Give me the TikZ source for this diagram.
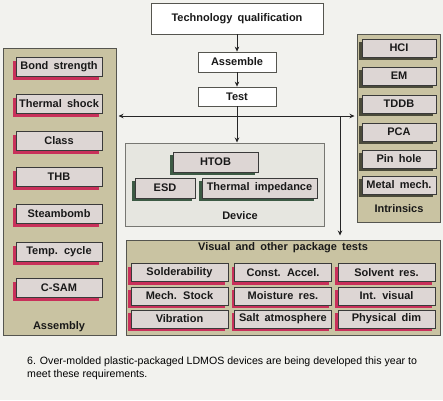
\documentclass[tikz,border=0pt]{standalone}
\usepackage{fontspec}
\setmainfont[WordSpace=1.7]{Liberation Sans}
\newfontfamily\capfont{Liberation Sans}
\usetikzlibrary{shadows,arrows.meta}
\definecolor{bgc}{HTML}{F2F2EE}
\definecolor{khaki}{HTML}{C9C3A2}
\definecolor{panelline}{HTML}{55554F}
\definecolor{itemfill}{HTML}{DDD6D4}
\definecolor{itemline}{HTML}{3A3A3A}
\definecolor{crimson}{HTML}{C8305A}
\definecolor{darkshadow}{HTML}{4A4A3A}
\definecolor{greenshadow}{HTML}{3C5A44}
\definecolor{devfill}{HTML}{E6E6E0}
\begin{document}
\begin{tikzpicture}[x=1pt,y=-1pt,
  lbl/.style={font=\bfseries\fontsize{11}{12}\selectfont, text=black!90},
  topbox/.style={lbl, draw=panelline, fill=white, line width=0.8pt, inner sep=0pt},
  panel/.style={draw=panelline, fill=khaki, line width=1pt},
  devpanel/.style={draw=panelline!80, fill=devfill, line width=1pt},
  item/.style={lbl, draw=itemline, fill=itemfill, line width=0.7pt, inner sep=0pt},
  redsh/.style={general shadow={fill=crimson, shadow xshift=-3pt, shadow yshift=-3pt}},
  darksh/.style={general shadow={fill=darkshadow, shadow xshift=-3pt, shadow yshift=-3pt}},
  greensh/.style={general shadow={fill=greenshadow, shadow xshift=-3pt, shadow yshift=-3pt}},
  asm/.style={item, redsh, minimum width=86pt, minimum height=19pt},
  intr/.style={item, darksh, minimum width=74pt, minimum height=18pt},
  vis/.style={item, redsh, minimum width=97pt, minimum height=18pt},
  dev/.style={item, greensh, minimum height=20pt},
  arr/.style={draw=black!85, line width=0.7pt, -{Stealth[length=5pt,width=4.5pt]}},
  captext/.style={font=\capfont\fontsize{10.6}{13}\selectfont, align=left, anchor=north west, inner sep=0pt}
]
\fill[bgc] (0,0) rectangle (443,400);
\useasboundingbox (0,0) rectangle (443,400);

% top chain
\node[topbox, minimum width=172pt, minimum height=31pt] (tq) at (237,18.5) {Technology qualification};
\node[topbox, minimum width=78pt, minimum height=20pt] (asb) at (237,62) {Assemble};
\node[topbox, minimum width=78pt, minimum height=19pt] (tst) at (237,96.5) {Test};

% panels
\node[panel, minimum width=113pt, minimum height=287pt] (asmP) at (59.5,191.5) {};
\node[panel, minimum width=83pt, minimum height=188pt] (intP) at (398.5,128) {};
\node[devpanel, minimum width=199pt, minimum height=83pt] (devP) at (224.5,184.5) {};
\node[panel, minimum width=314pt, minimum height=95pt] (visP) at (283,287.5) {};

% assembly items
\node[asm] (a1) at (59,67) {Bond strength};
\node[asm] (a2) at (59,104) {Thermal shock};
\node[asm] (a3) at (59,141) {Class};
\node[asm] (a4) at (59,177) {THB};
\node[asm] (a5) at (59,214) {Steambomb};
\node[asm] (a6) at (59,252) {Temp. cycle};
\node[asm] (a7) at (59,288) {C-SAM};
\node[lbl] (asmL) at (59,327) {Assembly};

% intrinsics items
\node[intr] (i1) at (399,48) {HCI};
\node[intr] (i2) at (399,76) {EM};
\node[intr] (i3) at (399,104) {TDDB};
\node[intr] (i4) at (399,132) {PCA};
\node[intr] (i5) at (399,159) {Pin hole};
\node[intr] (i6) at (399,185) {Metal mech.};
\node[lbl] (intL) at (399,209) {Intrinsics};

% device items
\node[dev, minimum width=85pt] (d1) at (215.5,162) {HTOB};
\node[dev, minimum width=60pt] (d2) at (165,188) {ESD};
\node[dev, minimum width=115pt] (d3) at (259.5,188) {Thermal impedance};
\node[lbl] (devL) at (240,216) {Device};

% visual items
\node[lbl] (visL) at (283,248) {Visual and other package tests};
\node[vis] (v11) at (179.5,272.5) {Solderability};
\node[vis] (v12) at (283,272.5) {Const. Accel.};
\node[vis] (v13) at (386.5,272.5) {Solvent res.};
\node[vis] (v21) at (179.5,296) {Mech. Stock};
\node[vis] (v22) at (283,296) {Moisture res.};
\node[vis] (v23) at (386.5,296) {Int. visual};
\node[vis] (v31) at (179.5,319) {Vibration};
\node[vis] (v32) at (283,319) {Salt atmosphere};
\node[vis] (v33) at (386.5,319) {Physical dim};

% connectors
\draw[arr] (tq.south) -- (asb.north);
\draw[arr] (asb.south) -- (tst.north);
\draw[arr] (tst.south) -- (tst.south |- devP.north);
\coordinate (hj) at (237,116);
\coordinate (vj) at (340,116);
\draw[arr, shorten >=2pt] (hj) -- (hj -| asmP.east);
\draw[arr, shorten >=2pt] (hj) -- (hj -| intP.west);
\draw[arr, shorten >=4pt] (vj) -- (vj |- visP.north);

% caption
\node[captext] (caption) at (27,357) {6. Over-molded plastic-packaged LDMOS devices are being developed this year to\\meet these requirements.};
\end{tikzpicture}
\end{document}
